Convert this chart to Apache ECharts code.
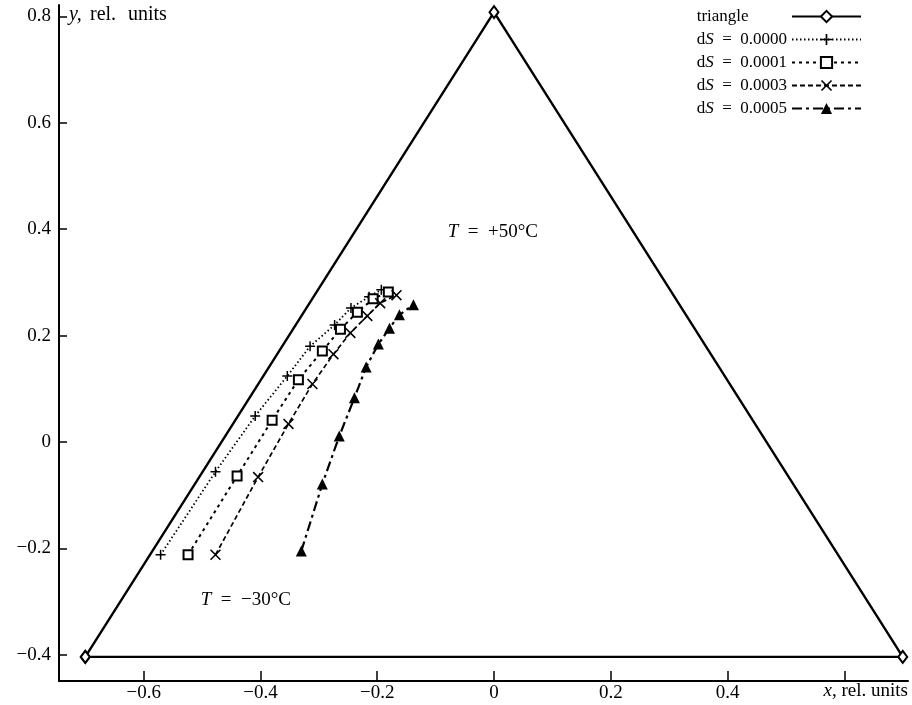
<!DOCTYPE html>
<html><head><meta charset="utf-8">
<script src="https://cdn.jsdelivr.net/npm/echarts@6/dist/echarts.min.js"></script>
<style>html,body{margin:0;padding:0;background:#fff}#c{width:912px;height:705px}</style>
</head><body><div id="c"></div>
<script>
// ---- data ----
const seriesNames = ['triangle', 'dS = 0.0000', 'dS = 0.0001', 'dS = 0.0003', 'dS = 0.0005'];
const triangleX = [-0.7, 0, 0.7, -0.7];
const triangleY = [-0.404, 0.808, -0.404, -0.404];
const s0000X = [-0.571, -0.477, -0.409, -0.354, -0.315, -0.273, -0.245, -0.214, -0.193];
const s0000Y = [-0.212, -0.056, 0.049, 0.124, 0.180, 0.220, 0.252, 0.273, 0.286];
const s0001X = [-0.524, -0.440, -0.380, -0.335, -0.294, -0.263, -0.234, -0.207, -0.181];
const s0001Y = [-0.212, -0.064, 0.041, 0.117, 0.171, 0.212, 0.244, 0.269, 0.282];
const s0003X = [-0.477, -0.404, -0.352, -0.311, -0.275, -0.246, -0.217, -0.195, -0.167];
const s0003Y = [-0.212, -0.066, 0.034, 0.109, 0.165, 0.205, 0.237, 0.261, 0.276];
const s0005X = [-0.330, -0.294, -0.265, -0.239, -0.219, -0.198, -0.179, -0.162, -0.138];
const s0005Y = [-0.205, -0.079, 0.011, 0.083, 0.141, 0.184, 0.214, 0.239, 0.258];
const xTicks = [-0.6, -0.4, -0.2, 0, 0.2, 0.4, 0.6];
const xTickLabels = [-0.6, -0.4, -0.2, 0, 0.2, 0.4];
const yTicks = [-0.4, -0.2, 0, 0.2, 0.4, 0.6, 0.8];
const annotations = [
  {text: '+50°C', x: -0.002, y: 0.395},
  {text: '\u221230°C', x: -0.425, y: -0.297}
];

const zip = (xs, ys) => xs.map((x, i) => [x, ys[i]]);
const FONT = '"Liberation Serif", "Times New Roman", serif';
const fmt = v => {
  if (Math.abs(v) < 1e-9) return '0';
  return (v < 0 ? '\u2212' : '') + Math.abs(v).toFixed(1);
};

// measure legend text so that all labels are left-aligned
const ctx = document.createElement('canvas').getContext('2d');
ctx.font = '17px ' + FONT;
let W = ctx.measureText('d').width + ctx.measureText('  =  0.0000').width;
ctx.font = 'italic 17px ' + FONT;
W += ctx.measureText('S').width;

const plusPath = 'path://M4.25,0h1.5v10h-1.5zM0,4.25h10v1.5h-10z';
const crossPath = 'path://M0,1L1,0L10,9L9,10ZM9,0L10,1L1,10L0,9Z';

const chart = echarts.init(document.getElementById('c'), null, {renderer: 'canvas'});
const axisCommon = {
  type: 'value',
  splitLine: {show: false},
  axisLine: {show: true, onZero: false, lineStyle: {color: '#000', width: 2}},
  axisTick: {show: true, inside: true, length: 10, lineStyle: {color: '#000', width: 1.5}},
  axisLabel: {color: '#000', fontFamily: FONT, fontSize: 19, formatter: fmt}
};
const option = {
  backgroundColor: '#fff',
  animation: false,
  grid: {left: 59, right: 4, top: 5, bottom: 24, containLabel: false},
  xAxis: Object.assign({}, axisCommon, {
    min: -0.745, max: 0.709,
    axisTick: Object.assign({}, axisCommon.axisTick, {customValues: xTicks}),
    axisLabel: Object.assign({}, axisCommon.axisLabel, {customValues: xTickLabels, margin: 3})
  }),
  yAxis: Object.assign({}, axisCommon, {
    min: -0.4493, max: 0.8214,
    axisTick: Object.assign({}, axisCommon.axisTick, {customValues: yTicks, length: 8}),
    axisLabel: Object.assign({}, axisCommon.axisLabel, {customValues: yTicks, margin: 8})
  }),
  legend: {
    orient: 'vertical', right: 50, top: 8, align: 'right', padding: 0,
    itemWidth: 69, itemHeight: 14, itemGap: 6, selectedMode: false,
    data: seriesNames,
    formatter: function (name) {
      if (name === 'triangle') return '{t|triangle}';
      return '{r|d}{i|S}{r|  =  ' + name.split('=')[1].trim() + '}';
    },
    textStyle: {
      color: '#000', fontFamily: FONT, fontSize: 17, lineHeight: 14,
      rich: {
        t: {width: W, align: 'left', fontFamily: FONT, fontSize: 17, lineHeight: 14, color: '#000'},
        r: {fontFamily: FONT, fontSize: 17, lineHeight: 14, color: '#000'},
        i: {fontFamily: FONT, fontSize: 17, lineHeight: 14, fontStyle: 'italic', color: '#000'}
      }
    }
  },
  series: [
    {
      name: seriesNames[0], type: 'line', data: zip(triangleX, triangleY),
      symbol: 'emptyDiamond', symbolSize: [9, 12], showAllSymbol: true,
      lineStyle: {color: '#000', width: 2.4},
      itemStyle: {color: '#000', borderWidth: 1.2}, z: 2
    },
    {
      name: seriesNames[1], type: 'line', data: zip(s0000X, s0000Y),
      symbol: plusPath, symbolSize: 10,
      lineStyle: {color: '#000', width: 1.8, type: [1.5, 2.5]},
      itemStyle: {color: '#000'}
    },
    {
      name: seriesNames[2], type: 'line', data: zip(s0001X, s0001Y),
      symbol: 'emptyRect', symbolSize: 9,
      lineStyle: {color: '#000', width: 2, type: [3, 4]},
      itemStyle: {color: '#000', borderWidth: 2.6}
    },
    {
      name: seriesNames[3], type: 'line', data: zip(s0003X, s0003Y),
      symbol: crossPath, symbolSize: 11,
      lineStyle: {color: '#000', width: 1.7, type: [5, 3]},
      itemStyle: {color: '#000'}
    },
    {
      name: seriesNames[4], type: 'line', data: zip(s0005X, s0005Y),
      symbol: 'triangle', symbolSize: 11,
      lineStyle: {color: '#000', width: 2.2, type: [10, 4, 3, 4]},
      itemStyle: {color: '#000'}
    }
  ]
};
chart.setOption(option);

const textStyle = {fill: '#000', font: '19px ' + FONT};
const graphics = annotations.map(a => {
  const p = chart.convertToPixel({gridIndex: 0}, [a.x, a.y]);
  return {
    type: 'text', x: p[0], y: p[1],
    style: Object.assign({}, textStyle, {
      text: '{i|T}  =  ' + a.text, align: 'center', verticalAlign: 'middle',
      rich: {i: {fontStyle: 'italic', fontFamily: FONT, fontSize: 19}}
    })
  };
});
graphics.push({
  type: 'text', x: 69, y: 15,
  style: Object.assign({}, textStyle, {
    text: '{a|y,}{b|rel.}{c|units}', verticalAlign: 'middle',
    rich: {
      a: {fontStyle: 'italic', fontFamily: FONT, fontSize: 20, width: 21, align: 'left'},
      b: {fontFamily: FONT, fontSize: 20, width: 38, align: 'left'},
      c: {fontFamily: FONT, fontSize: 20, align: 'left'}
    }
  })
});
graphics.push({
  type: 'text', x: 908, y: 691,
  style: Object.assign({}, textStyle, {
    text: '{i|x}, rel. units', align: 'right', verticalAlign: 'middle',
    rich: {i: {fontStyle: 'italic', fontFamily: FONT, fontSize: 19}}
  })
});
chart.setOption({graphic: graphics});
</script>
</body></html>
